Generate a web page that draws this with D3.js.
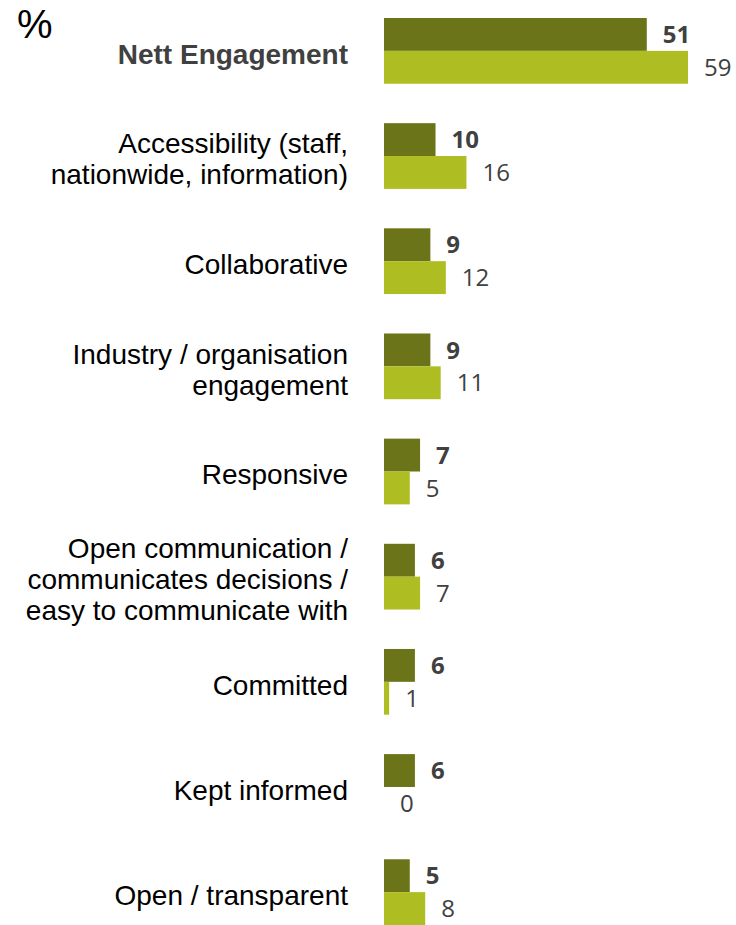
<!DOCTYPE html>
<html>
<head>
<meta charset="utf-8">
<script src="https://cdn.jsdelivr.net/npm/d3@7"></script>
<style>
  html, body { margin: 0; padding: 0; background: #ffffff; }
  svg { display: block; }
</style>
</head>
<body>
<svg id="chart" width="736" height="925"></svg>
<script>
// Category labels, one entry per line of wrapped text
const categories = [
  ["Nett Engagement"],
  ["Accessibility (staff,", "nationwide, information)"],
  ["Collaborative"],
  ["Industry / organisation", "engagement"],
  ["Responsive"],
  ["Open communication /", "communicates decisions /", "easy to communicate with"],
  ["Committed"],
  ["Kept informed"],
  ["Open / transparent"]
];
const categoryKeys = categories.map(c => c.join(" "));

// Two series: current wave (dark, bold labels) and comparison wave (light)
const seriesCurrent = [51, 10, 9, 9, 7, 6, 6, 6, 5];
const seriesPrevious = [59, 16, 12, 11, 5, 7, 1, 0, 8];

const unitLabel = "%";

const svg = d3.select("#chart");

const colorCurrent = "#6b7418";
const colorPrevious = "#aebd22";
const valueColor = "#404040";

// Scales
const x = d3.scaleLinear().domain([0, 59]).range([384, 688]);
const y = d3.scaleBand()
  .domain(categoryKeys)
  .range([18, 925])
  .paddingInner(0.375)
  .paddingOuter(0);
const sub = d3.scaleBand()
  .domain(["current", "previous"])
  .range([0, y.bandwidth()])
  .padding(0);

const rows = categoryKeys.map((k, i) => ({
  key: k,
  lines: categories[i],
  bold: i === 0,
  values: [
    { s: "current", v: seriesCurrent[i] },
    { s: "previous", v: seriesPrevious[i] }
  ]
}));

const g = svg.selectAll("g.row").data(rows).join("g")
  .attr("class", "row")
  .attr("transform", d => `translate(0,${y(d.key)})`);

// Bars
g.selectAll("rect").data(d => d.values).join("rect")
  .attr("x", x(0))
  .attr("y", d => sub(d.s))
  .attr("width", d => x(d.v) - x(0))
  .attr("height", sub.bandwidth())
  .attr("fill", d => d.s === "current" ? colorCurrent : colorPrevious);

// Value labels
g.selectAll("text.val").data(d => d.values).join("text")
  .attr("class", "val")
  .attr("x", d => x(d.v) + 16)
  .attr("y", d => sub(d.s) + sub.bandwidth() / 2)
  .attr("dy", "0.36em")
  .attr("font-family", "'Open Sans', sans-serif")
  .attr("font-size", 24)
  .attr("font-weight", d => d.s === "current" ? 700 : 400)
  .attr("fill", valueColor)
  .text(d => d.v);

// Category labels, right-aligned left of the bars
const lineH = 31;
g.append("text")
  .attr("class", "cat")
  .attr("text-anchor", "end")
  .attr("font-family", "'Liberation Sans', Arial, sans-serif")
  .attr("font-size", 28)
  .attr("font-weight", d => d.bold ? 700 : 400)
  .attr("fill", d => d.bold ? "#404040" : "#000000")
  .each(function(d) {
    const t = d3.select(this);
    const n = d.lines.length;
    const cy = y.bandwidth() / 2 + 3;
    d.lines.forEach((line, j) => {
      t.append("tspan")
        .attr("x", 348)
        .attr("y", cy + (j - (n - 1) / 2) * lineH)
        .attr("dy", "0.35em")
        .text(line);
    });
  });

// Unit marker
svg.append("text")
  .attr("x", 17)
  .attr("y", 38)
  .attr("font-family", "'Liberation Sans', Arial, sans-serif")
  .attr("font-size", 40)
  .attr("fill", "#000000")
  .text(unitLabel);
</script>
</body>
</html>
